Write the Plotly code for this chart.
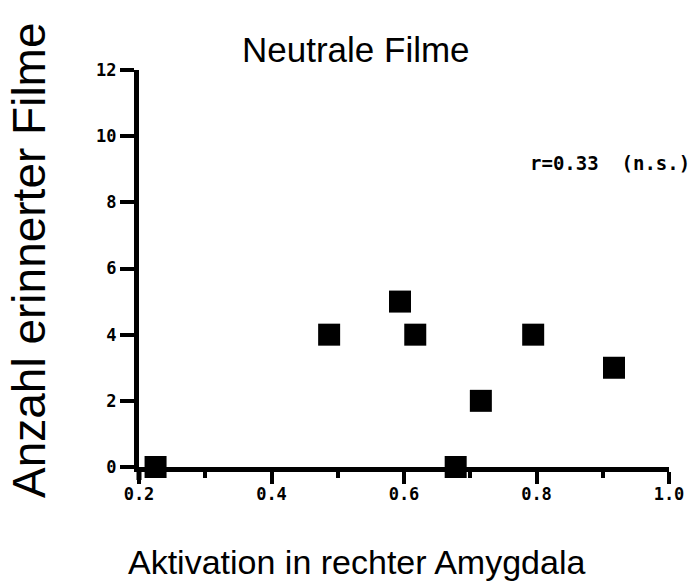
import plotly.graph_objects as go

# Data
activation = [0.225, 0.487, 0.594, 0.617, 0.678, 0.716, 0.795, 0.917]
remembered = [0, 4, 5, 4, 0, 2, 4, 3]

x_ticks = [0.2, 0.4, 0.6, 0.8, 1.0]
x_tick_labels = ["0.2", "0.4", "0.6", "0.8", "1.0"]
y_ticks = [0, 2, 4, 6, 8, 10, 12]
y_tick_labels = ["0", "2", "4", "6", "8", "10", "12"]

title_text = "Neutrale Filme"
x_title = "Aktivation in rechter Amygdala"
y_title = "Anzahl erinnerter Filme"
stat_text = "r=0.33  (n.s.)"

W, H = 692, 584
L, R, T, B = 139, 23, 70, 117
pw, ph = W - L - R, H - T - B

def px(xp):
    return (xp - L) / pw

def py(yp):
    return (H - B - yp) / ph

tick_font = dict(family="DejaVu Sans Mono", size=17, color="black", weight="bold")

fig = go.Figure(
    go.Scatter(
        x=activation, y=remembered, mode="markers",
        marker=dict(symbol="square", size=22, color="black", line=dict(width=0)),
        cliponaxis=False, showlegend=False,
    )
)

fig.update_layout(
    width=W, height=H,
    margin=dict(l=L, r=R, t=T, b=B, autoexpand=False),
    paper_bgcolor="white", plot_bgcolor="white",
    xaxis=dict(
        range=[0.2, 1.0], tickvals=x_ticks, ticktext=x_tick_labels,
        showgrid=False, zeroline=False, showline=True, linewidth=5, linecolor="black",
        ticks="outside", ticklen=12, tickwidth=4, tickcolor="black",
        minor=dict(dtick=0.1, ticklen=6, tickwidth=4, tickcolor="black", ticks="outside", showgrid=False),
        tickfont=tick_font, ticklabelstandoff=-4,
    ),
    yaxis=dict(
        range=[0, 12], tickvals=y_ticks, ticktext=y_tick_labels,
        showgrid=False, zeroline=False, showline=True, linewidth=5, linecolor="black",
        ticks="outside", ticklen=14, tickwidth=4, tickcolor="black",
        tickfont=tick_font,
    ),
    shapes=[
        dict(type="line", xref="paper", yref="paper", x0=0, x1=0, y0=0, y1=py(480),
             line=dict(color="black", width=5)),
    ],
    annotations=[
        dict(text=title_text, xref="paper", yref="paper", x=px(356), y=py(50),
             showarrow=False, xanchor="center", yanchor="middle",
             font=dict(family="Liberation Sans", size=35, color="black")),
        dict(text=y_title, xref="paper", yref="paper", x=px(29), y=py(260),
             showarrow=False, xanchor="center", yanchor="middle", textangle=-90,
             font=dict(family="Liberation Sans", size=46, color="black")),
        dict(text=x_title, xref="paper", yref="paper", x=px(356), y=py(562),
             showarrow=False, xanchor="center", yanchor="middle",
             font=dict(family="Liberation Sans", size=34, color="black")),
        dict(text=stat_text, xref="paper", yref="paper", x=px(528), y=py(163),
             showarrow=False, xanchor="left", yanchor="middle",
             font=dict(family="DejaVu Sans Mono", size=19, color="black", weight="bold")),
    ],
)

fig.write_html(
    "out.html",
    config={"displayModeBar": False},
    post_script="document.body.style.margin='0px';document.body.style.overflow='hidden';",
)
